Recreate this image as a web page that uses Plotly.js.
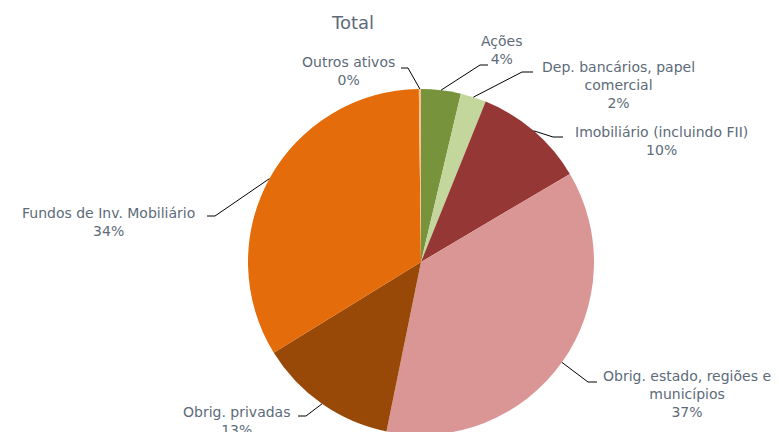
<!DOCTYPE html>
<html>
<head>
<meta charset="utf-8">
<script src="https://cdn.plot.ly/plotly-3.0.1.min.js"></script>
<style>html,body{margin:0;padding:0;overflow:hidden;background:#fff}#chart{width:779px;height:440px}</style>
</head>
<body>
<div id="chart"></div>
<script>
// Data
const categories = ["Ações", "Dep. bancários, papel<br>comercial", "Imobiliário (incluindo FII)", "Obrig. estado, regiões e<br>municípios", "Obrig. privadas", "Fundos de Inv. Mobiliário", "Outros ativos"];
const values = [3.7, 2.4, 10.4, 36.7, 13.0, 33.6, 0.2];
const colors = ["#77933C", "#C3D69B", "#953735", "#D99694", "#984807", "#E46C0A", "#FAC090"];

// Label layout (pixel positions of label blocks and elbow of leader lines)
const labelPos = [
  {x: 502, y: 50, e1: 488, e2: 480, ey: 65},
  {x: 618, y: 85, e1: 533, e2: 522, ey: 72},
  {x: 661, y: 141.5, e1: 563, e2: 553, ey: 137},
  {x: 687, y: 394, e1: 597, e2: 588, ey: 382},
  {x: 237, y: 420.5, e1: 298, e2: 306, ey: 416},
  {x: 108, y: 221.5, e1: 207, e2: 215, ey: 216},
  {x: 348, y: 71.5, e1: 401, e2: 408, ey: 68}
];

const W = 779, H = 440;
const cx = 421, cy = 262, R = 173;
const px = x => x / W;
const py = y => 1 - y / H;

const total = values.reduce((a, b) => a + b, 0);
const textColor = "#5D6B79";
const font = {family: "DejaVu Sans, Open Sans, sans-serif", size: 14, color: textColor};

const annotations = [{
  text: "Total", xref: "paper", yref: "paper", x: px(352), y: py(23),
  xanchor: "center", yanchor: "middle", showarrow: false,
  font: {family: font.family, size: 18, color: textColor}
}];
const shapes = [];
let cum = 0;
values.forEach((v, i) => {
  const mid = (cum + v / 2) / total;
  cum += v;
  const ang = mid * 2 * Math.PI;
  const ax = cx + R * Math.sin(ang), ay = cy - R * Math.cos(ang);
  const p = labelPos[i];
  const pct = Math.round(v / total * 100) + "%";
  annotations.push({
    text: categories[i] + "<br>" + pct, xref: "paper", yref: "paper",
    x: px(p.x), y: py(p.y), xanchor: "center", yanchor: "middle",
    showarrow: false, align: "center", font: font
  });
  shapes.push({
    type: "path", xref: "paper", yref: "paper",
    path: `M ${px(p.e1)} ${py(p.ey)} L ${px(p.e2)} ${py(p.ey)} L ${px(ax)} ${py(ay)}`,
    line: {color: "#000000", width: 1}
  });
});

const trace = {
  type: "pie",
  labels: categories,
  values: values,
  sort: false,
  direction: "clockwise",
  rotation: 0,
  marker: {colors: colors, line: {width: 0}},
  textinfo: "none",
  hoverinfo: "label+percent",
  domain: {x: [px(cx - R), px(cx + R)], y: [py(cy + R), py(cy - R)]},
  showlegend: false
};

Plotly.newPlot("chart", [trace], {
  width: W, height: H,
  margin: {l: 0, r: 0, t: 0, b: 0},
  paper_bgcolor: "#ffffff",
  annotations: annotations,
  shapes: shapes,
  showlegend: false
}, {displayModeBar: false, staticPlot: true});
</script>
</body>
</html>
